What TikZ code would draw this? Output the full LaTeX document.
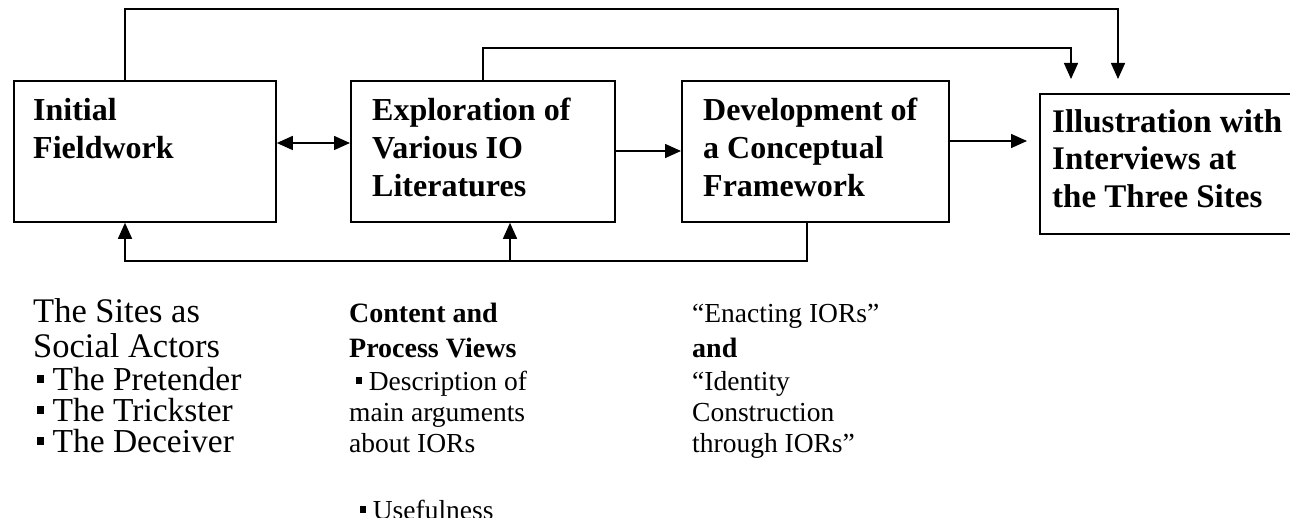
\documentclass[tikz,border=0pt]{standalone}
\usepackage{fontspec}
\setmainfont{Liberation Serif}
\usetikzlibrary{arrows.meta}
% small square bullet for the lists
\newcommand\sqmark{\raisebox{0.22em}{\rule{0.21em}{0.24em}}}

\begin{document}
\begin{tikzpicture}[x=1pt,y=-1pt,
  box/.style={draw, line width=1.8pt, anchor=north west, inner sep=0pt},
  link/.style={line width=1.5pt},
  arr/.style={link, -{Triangle[length=16pt,width=14pt]}},
  dbl/.style={link, {Triangle[length=16pt,width=14pt]}-{Triangle[length=16pt,width=14pt]}},
  bt/.style={anchor=base west, inner sep=0pt, font=\fontsize{32}{38}\selectfont\bfseries},
  btl/.style={anchor=base west, inner sep=0pt, font=\fontsize{33}{40}\selectfont\bfseries},
  hd/.style={anchor=base west, inner sep=0pt, font=\fontsize{34.5}{38}\selectfont},
  li/.style={anchor=base west, inner sep=0pt, font=\fontsize{33.5}{36}\selectfont},
  hdb/.style={anchor=base west, inner sep=0pt, font=\fontsize{28}{32}\selectfont\bfseries},
  tx/.style={anchor=base west, inner sep=0pt, font=\fontsize{27.5}{32}\selectfont},
  txb/.style={anchor=base west, inner sep=0pt, font=\fontsize{28}{32}\selectfont\bfseries}
]
\useasboundingbox (0,0) rectangle (1290,518);
\clip (0,0) rectangle (1290,518);

% process boxes
\node[box, minimum width=262pt, minimum height=141pt] (b1) at (13,80) {};
\node[box, minimum width=264pt, minimum height=141pt] (b2) at (350,80) {};
\node[box, minimum width=267pt, minimum height=141pt] (b3) at (681,80) {};
\node[box, minimum width=300pt, minimum height=140pt] (b4) at (1039,93) {};

% box captions
\node[bt] (t1a) at (33,121) {Initial};
\node[bt] (t1b) at (33,159) {Fieldwork};
\node[bt] (t2a) at (372,121) {Exploration of};
\node[bt] (t2b) at (372,159) {Various IO};
\node[bt] (t2c) at (372,197) {Literatures};
\node[bt] (t3a) at (703,121) {Development of};
\node[bt] (t3b) at (703,159) {a Conceptual};
\node[bt] (t3c) at (703,197) {Framework};
\node[btl] (t4a) at (1052,133) {Illustration with};
\node[btl] (t4b) at (1052,170) {Interviews at};
\node[btl] (t4c) at (1052,208) {the Three Sites};

% free ends of the arrows pointing at the last box
\coordinate (in4a) at (1118,79);
\coordinate (in4b) at (1071,79);
\coordinate (in4c) at (1027,141);

% connectors
\draw[arr] ([xshift=112pt]b1.north west) |- ([yshift=70pt]in4a) -- (in4a);
\draw[arr] ([xshift=133pt]b2.north west) |- ([yshift=31pt]in4b) -- (in4b);
\draw[dbl] ([yshift=-63pt]b1.north east) -- ([yshift=-63pt]b2.north west);
\draw[arr] ([yshift=-71pt]b2.north east) -- ([yshift=-71pt]b3.north west);
\draw[arr] ([yshift=-61pt]b3.north east) -- (in4c);
\draw[arr] ([xshift=126pt]b3.south west) |- ([xshift=112pt,yshift=-38pt]b1.south west)
  -- ([xshift=112pt]b1.south west);
\draw[arr] ([xshift=160pt,yshift=-38pt]b2.south west) -- ([xshift=160pt]b2.south west);

% notes under the first box
\node[hd] (n1a) at (33,323) {The Sites as};
\node[hd] (n1b) at (33,358) {Social Actors};
\node[li] (n1c) at (37,390) {\sqmark\ The Pretender};
\node[li] (n1d) at (37,421) {\sqmark\ The Trickster};
\node[li] (n1e) at (37,452) {\sqmark\ The Deceiver};

% notes under the second box
\node[hdb] (n2a) at (349,323) {Content and};
\node[hdb] (n2b) at (349,358) {Process Views};
\node[tx] (n2c) at (356,390) {\sqmark\ Description of};
\node[tx] (n2d) at (349,421) {main arguments};
\node[tx] (n2e) at (349,452) {about IORs};
\node[tx] (n2f) at (360,519) {\sqmark\ Usefulness};

% notes under the third box
\node[tx] (n3a) at (692,323) {“Enacting IORs”};
\node[txb] (n3b) at (692,358) {and};
\node[tx] (n3c) at (692,390) {“Identity};
\node[tx] (n3d) at (692,421) {Construction};
\node[tx] (n3e) at (692,452) {through IORs”};
\end{tikzpicture}
\end{document}
